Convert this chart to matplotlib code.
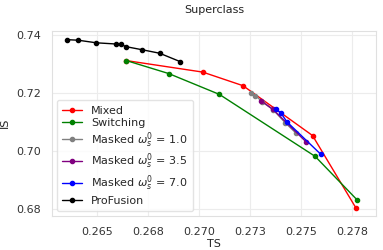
import matplotlib
matplotlib.use("Agg")
import matplotlib.pyplot as plt
import seaborn as sns
from matplotlib.ticker import FormatStrFormatter

sns.set_theme(style="whitegrid")
plt.rcParams['font.family'] = ['DejaVu Sans']

mixed_ts = [0.26644, 0.27018, 0.27216, 0.27557, 0.27770]
mixed_is = [0.73116, 0.7272, 0.7225, 0.7053, 0.6803]

switch_ts = [0.26644, 0.26851, 0.27100, 0.27570, 0.27777]
switch_is = [0.73116, 0.7267, 0.7195, 0.6981, 0.6830]

m10_ts = [0.27254, 0.27277, 0.27310, 0.27364, 0.27423, 0.27475]
m10_is = [0.71993, 0.71911, 0.71694, 0.71419, 0.70971, 0.70620]

m35_ts = [0.27305, 0.27362, 0.27526]
m35_is = [0.71728, 0.71436, 0.70307]

m70_ts = [0.27377, 0.27402, 0.27431, 0.27598]
m70_is = [0.71443, 0.71305, 0.71006, 0.69880]

pro_ts = [0.2635, 0.26407, 0.26497, 0.26591, 0.26618, 0.2664, 0.26722, 0.26807, 0.26908]
pro_is = [0.7384, 0.7382, 0.7373, 0.7369, 0.7368, 0.7360, 0.7349, 0.7337, 0.7308]

fig = plt.figure(figsize=(3.83, 2.5), dpi=100)
ax = fig.add_axes([0.137, 0.138, 0.845, 0.738])

kw = dict(marker='o', markersize=3, linewidth=1)
ax.plot(mixed_ts, mixed_is, color='red', label='Mixed', **kw)
ax.plot(switch_ts, switch_is, color='green', label='Switching', **kw)
ax.plot(m10_ts, m10_is, color='gray', label=r'Masked $\omega_s^0$ = 1.0', **kw)
ax.plot(m35_ts, m35_is, color='purple', label=r'Masked $\omega_s^0$ = 3.5', **kw)
ax.plot(m70_ts, m70_is, color='blue', label=r'Masked $\omega_s^0$ = 7.0', **kw)
ax.plot(pro_ts, pro_is, color='black', label='ProFusion', **kw)

ax.set_xlim(0.26281, 0.27869)
ax.set_ylim(0.6777, 0.74138)
ax.set_xticks([0.265, 0.2675, 0.270, 0.2725, 0.275, 0.2775])
ax.set_yticks([0.68, 0.70, 0.72, 0.74])
ax.xaxis.set_major_formatter(FormatStrFormatter('%.3f'))
ax.yaxis.set_major_formatter(FormatStrFormatter('%.2f'))
ax.tick_params(labelsize=8, pad=2, colors='#333333')
ax.grid(color='#ececec', linewidth=0.8)
for s in ax.spines.values():
    s.set_color('#e0e0e0')
    s.set_linewidth(0.8)
ax.set_xlabel('TS', fontsize=8, labelpad=2, color='#222222')
ax.set_ylabel('IS', fontsize=8, labelpad=5, color='#222222')
ax.set_title('Superclass', fontsize=8, pad=13, color='#222222')
leg = ax.legend(loc='lower left', fontsize=8, borderaxespad=0.4,
                handlelength=1.8, labelspacing=0.2, borderpad=0.5)
leg.get_frame().set_edgecolor('#dddddd')

fig.savefig('out.png', dpi=100)
